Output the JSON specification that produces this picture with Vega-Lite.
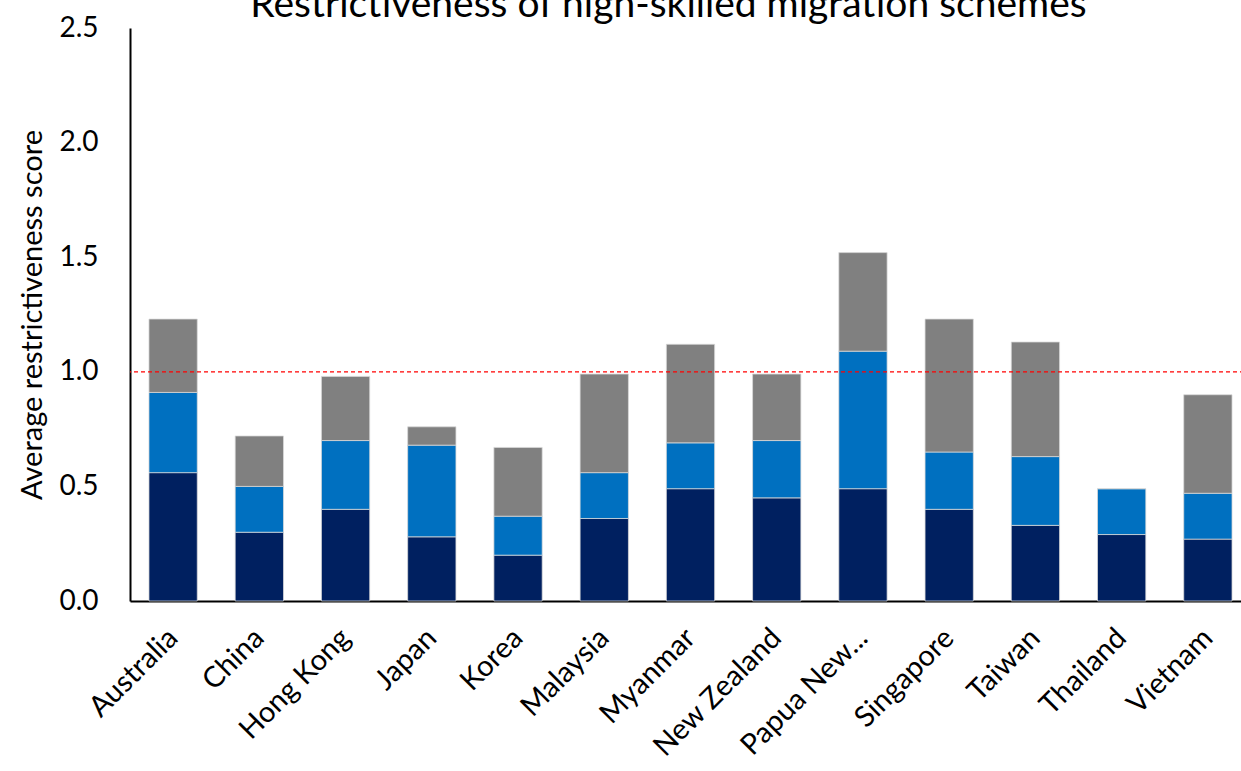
{
  "$schema": "https://vega.github.io/schema/vega-lite/v6.json",
  "autosize": "none",
  "padding": {"left": 130, "top": 28, "right": 0, "bottom": 170},
  "width": 1121,
  "height": 573,
  "background": "white",
  "title": {
    "text": "Restrictiveness of high-skilled migration schemes",
    "font": "Lato",
    "fontSize": 39,
    "fontWeight": "normal",
    "color": "#000000",
    "baseline": "alphabetic",
    "offset": -42,
    "dx": -22
  },
  "config": {
    "view": {"stroke": null},
    "font": "Lato"
  },
  "data": {
    "values": [
      {"country": "Australia", "part": "A", "o": 1, "value": 0.56},
      {"country": "Australia", "part": "B", "o": 2, "value": 0.35},
      {"country": "Australia", "part": "C", "o": 3, "value": 0.32},
      {"country": "China", "part": "A", "o": 1, "value": 0.30},
      {"country": "China", "part": "B", "o": 2, "value": 0.20},
      {"country": "China", "part": "C", "o": 3, "value": 0.22},
      {"country": "Hong Kong", "part": "A", "o": 1, "value": 0.40},
      {"country": "Hong Kong", "part": "B", "o": 2, "value": 0.30},
      {"country": "Hong Kong", "part": "C", "o": 3, "value": 0.28},
      {"country": "Japan", "part": "A", "o": 1, "value": 0.28},
      {"country": "Japan", "part": "B", "o": 2, "value": 0.40},
      {"country": "Japan", "part": "C", "o": 3, "value": 0.08},
      {"country": "Korea", "part": "A", "o": 1, "value": 0.20},
      {"country": "Korea", "part": "B", "o": 2, "value": 0.17},
      {"country": "Korea", "part": "C", "o": 3, "value": 0.30},
      {"country": "Malaysia", "part": "A", "o": 1, "value": 0.36},
      {"country": "Malaysia", "part": "B", "o": 2, "value": 0.20},
      {"country": "Malaysia", "part": "C", "o": 3, "value": 0.43},
      {"country": "Myanmar", "part": "A", "o": 1, "value": 0.49},
      {"country": "Myanmar", "part": "B", "o": 2, "value": 0.20},
      {"country": "Myanmar", "part": "C", "o": 3, "value": 0.43},
      {"country": "New Zealand", "part": "A", "o": 1, "value": 0.45},
      {"country": "New Zealand", "part": "B", "o": 2, "value": 0.25},
      {"country": "New Zealand", "part": "C", "o": 3, "value": 0.29},
      {"country": "Papua New...", "part": "A", "o": 1, "value": 0.49},
      {"country": "Papua New...", "part": "B", "o": 2, "value": 0.60},
      {"country": "Papua New...", "part": "C", "o": 3, "value": 0.43},
      {"country": "Singapore", "part": "A", "o": 1, "value": 0.40},
      {"country": "Singapore", "part": "B", "o": 2, "value": 0.25},
      {"country": "Singapore", "part": "C", "o": 3, "value": 0.58},
      {"country": "Taiwan", "part": "A", "o": 1, "value": 0.33},
      {"country": "Taiwan", "part": "B", "o": 2, "value": 0.30},
      {"country": "Taiwan", "part": "C", "o": 3, "value": 0.50},
      {"country": "Thailand", "part": "A", "o": 1, "value": 0.29},
      {"country": "Thailand", "part": "B", "o": 2, "value": 0.20},
      {"country": "Thailand", "part": "C", "o": 3, "value": 0.0},
      {"country": "Vietnam", "part": "A", "o": 1, "value": 0.27},
      {"country": "Vietnam", "part": "B", "o": 2, "value": 0.20},
      {"country": "Vietnam", "part": "C", "o": 3, "value": 0.43}
    ]
  },
  "layer": [
    {
      "mark": {"type": "bar", "stroke": "#d9d9d9", "strokeWidth": 0.75},
      "encoding": {
        "x": {
          "field": "country",
          "type": "nominal",
          "sort": null,
          "scale": {"paddingInner": 0.44, "paddingOuter": 0.22},
          "axis": {
            "title": null,
            "labelAngle": -45,
            "labelAlign": "right",
            "labelBaseline": "middle",
            "labelFont": "Lato",
            "labelFontSize": 29,
            "labelColor": "#000000",
            "labelPadding": 32,
            "labelLimit": 300,
            "ticks": false,
            "domainColor": "#000000",
            "domainWidth": 2
          }
        },
        "y": {
          "field": "value",
          "type": "quantitative",
          "stack": "zero",
          "scale": {"domain": [0, 2.5], "nice": false},
          "axis": {
            "title": "Average restrictiveness score",
            "titleFont": "Lato",
            "titleFontSize": 29,
            "titleFontWeight": "normal",
            "titleColor": "#000000",
            "titlePadding": 11,
            "values": [0, 0.5, 1, 1.5, 2, 2.5],
            "format": ".1f",
            "labelFont": "Lato",
            "labelFontSize": 28,
            "labelColor": "#000000",
            "labelPadding": 32,
            "ticks": false,
            "grid": false,
            "domainColor": "#000000",
            "domainWidth": 2
          }
        },
        "color": {
          "field": "part",
          "type": "nominal",
          "scale": {"domain": ["A", "B", "C"], "range": ["#002060", "#0070C0", "#808080"]},
          "legend": null
        },
        "order": {"field": "o", "type": "quantitative"}
      }
    },
    {
      "data": {"values": [{"ref": 1}]},
      "mark": {"type": "rule", "color": "#FF0000", "strokeWidth": 1.2, "strokeDash": [4, 3]},
      "encoding": {"y": {"field": "ref", "type": "quantitative"}}
    }
  ]
}
